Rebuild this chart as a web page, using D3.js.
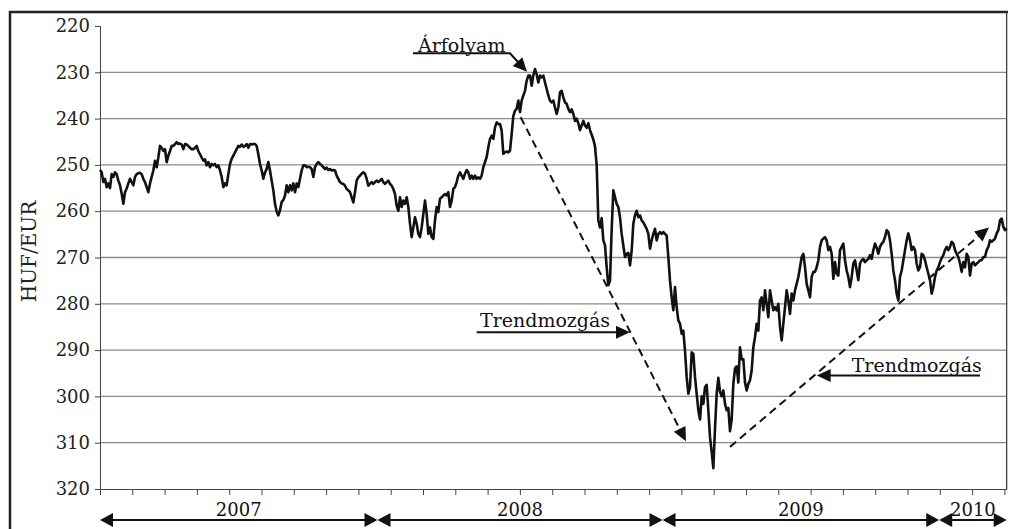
<!DOCTYPE html>
<html><head><meta charset="utf-8">
<script src="https://cdn.jsdelivr.net/npm/d3@7"></script>
<style>body{margin:0;background:#fff}svg{display:block}</style>
</head><body><svg id="c" width="1010" height="529"></svg>
<script>
// HUF/EUR exchange rate readings (roughly every 1.5 trading days), split by year
const rate2007 = [251.1,251.6,253.7,253,254.8,254,255,252,252.6,251.6,252,253.4,254.4,256.2,258.4,255.9,255.1,254,253,253.7,
254.4,252.6,252,251.8,251.7,252,253,253.7,254.8,255.9,254,252.6,251.2,249.1,250.5,248.4,245.9,246.3,247,246.6,
249.4,248,247,245.9,245.9,245.5,245.1,245.5,245.4,245.6,246.6,245.5,245.6,245.9,246.3,246.6,246.6,246.3,245.9,247,
247.7,248.4,249.1,248.8,250.1,249.4,250.5,249.8,250.1,249.8,250.5,250.1,251.2,252.6,254.8,254,254.4,252,249.8,248.7,
248,247.3,246.6,245.9,246.1,245.6,246.1,245.9,245.5,246.3,245.5,245.6,245.5,245.5,245.9,247.7,249.8,251.2,253,251.6,
250.9,249.4,251.2,253.4,255.5,258.4,260.1,260.9,259.8,258,257.6,256.6,254.4,255.9,254.4,255.5,254,255.9,254,254.8,
253,251.2,250.1,250.1,250.5,250.4,250.5,250.9,252.6,250.5,249.8,249.4,249.8,250.1,250.5,250.9,250.6,251.1,250.9,251.2,
251.1,251.2,
252.3,253,253.7,254,254.1,254.5,255.2,255.5,255.9,257,258.1,255.9,253.4,252.7,252.3,251.9,251.6,251.9,253,254.5,
254.1,253.7,254.1,253.7,253.4];
const rate2008 = [253.7,253.4,253,253.7,254.1,253.7,253.4,254.1,254.5,255.2,256.3,258.8,259.9,257,259.1,257.7,258.4,257,259.1,262.7,
265.6,263.5,261.3,262.7,264.9,265.6,263.5,260.6,257.7,260.6,264.9,263.5,265.6,266,262,259.1,260.2,257.3,257,256.6,
256.3,256.6,255.9,259.1,257.7,255.2,254.8,253.7,252.3,251.6,252.3,253,251.9,251.1,251.6,253,252.3,253,252.3,253,
252.7,253,252.3,250.5,249.4,248.3,246.2,244.4,243.7,244.4,241.9,240.8,241.2,241.2,242.6,247.6,247.3,247.1,247.3,246.9,
243.3,239.4,238.3,237.9,236.1,238.6,236.1,235,234,231.8,230.7,230.7,232.9,230.7,229.3,230.4,232.2,230.7,231.1,230.7,
232.2,233.6,235,236.1,236.5,236.1,237.6,239,237.6,234.3,234,235.4,236.5,236.8,237.9,238.6,
238,239,240.5,240,241,242.5,241.5,240.5,241.5,242,241,242.5,243.5,244.5,246,250,
262,263.5,261.5,266.3,267.4,272.1,276,275,264,255.5,257,258.4,259.1,261.3,264.9,267.4,269.9,269.2,269,271.7,
268.5,262.7,260.9,259.9,261.3,260.9,262,262.4,263.1,263.8,264.9,268.1,266.3,264.9,263.8,266.3,264.9,264.5,264.9];
const rate2009 = [264.5,264.9,265.3,269.9,275,278.6,281.4,276.4,280.7,283.6,284.3,286.5,285.8,290.1,295.8,299.4,298,290.5,290.8,
295.8,299.4,303,305,300,301.6,298,297.5,303,308.8,312,315.5,307,299.4,296,299,300,298.7,301.6,303,
302.5,307.5,305,297.3,294,293.5,297,289.4,292,292,297,298.7,297.3,296.5,294.4,289.4,287.2,284.3,285.8,279.3,
278.6,281.4,277.1,280,282.9,277.1,279.3,281.4,280.7,281.4,280,285,287.9,284.3,280.7,277.1,279.3,282.2,
277.8,279.3,277.1,275.7,274.2,272.1,269.9,269.2,272.1,275.7,277.1,278.6,274.2,273.1,273.1,272.1,270.6,267.7,266.3,265.9,
265.6,266.3,268.4,267.7,269.2,274.6,271,273.5,273.9,268.4,267.7,267,270.6,272.8,274.2,276.4,274.2,271.3,270.6,272.8,
274.9,271.3,270.6,270.3,271,270.6,270.3,269.5,270.3,268.4,267,267.9,269.2,267.7,267,266.6,265.6,264.1,264.5,266.3,
269.2,272.8,274.9,277.8,279.3,274.2,272.8,270.6,268.4,266.3,264.8,266.3,268.4,267.7,268.4,271.3,272.8,272.1,269.2,269.5,
270.6,272.1,273.5,274.9,277.8,276.4,274.2,272.8,272.1];
const rate2010 = [271,270.1,269.5,268.4,267.7,268.4,267.7,266.6,267,268.4,269.2,269.9,271.3,273.1,271,272.1,269.2,269.9,273.9,271.3,
271,271.7,271.3,271,270.6,270.6,269.9,269.9,268.4,267.7,266.3,266.6,266.3,265.9,264.8,264.1,262,261.6,263.4,264.1,263.7];

const years = ["2007", "2008", "2009", "2010"];
const yTicks = [220, 230, 240, 250, 260, 270, 280, 290, 300, 310, 320];
const gridValues = [230, 240, 250, 260, 270, 280, 290, 300, 310];
const yTitle = "HUF/EUR";
const tickEvery = 19.38; // readings between x-axis tick marks

// annotations in data coordinates [reading index, HUF/EUR]
const labelRate = {text: "Árfolyam", at: [190.8, 225.55], line: [[187.8, 225.9], [246, 225.9], [256.2, 229.9]]};
const labelTrend1 = {text: "Trendmozgás", at: [228, 285.0], line: [[226, 286.15], [318, 286.15]]};
const labelTrend2 = {text: "Trendmozgás", at: [451, 294.66], line: [[528, 295.5], [430, 295.5]]};
const trendDown = [[252.4, 239.7], [351.6, 309.7]];
const trendUp = [[378, 310.9], [533.4, 263.5]];

const series = [rate2007, rate2008, rate2009, rate2010];
const rate = series.flat();

const svg = d3.select("#c");
const FONT = "'DejaVu Serif', serif";
const P = {left: 100, top: 26, right: 1006.67, bottom: 489};

const x = d3.scaleLinear().domain([0, rate.length - 1]).range([P.left, P.right]);
const y = d3.scaleLinear().domain([220, 320]).range([P.top, P.bottom]);

// outer frame
svg.append("path").attr("d", `M10,529 V12 H1008`)
  .attr("fill", "none").attr("stroke", "#222").attr("stroke-width", 2.5);

// gridlines
svg.append("g").selectAll("line").data(gridValues).join("line")
  .attr("x1", P.left).attr("x2", P.right)
  .attr("y1", d => y(d)).attr("y2", d => y(d))
  .attr("stroke", "#8c8c8c").attr("stroke-width", 1.3);

// right border
svg.append("line").attr("x1", P.right).attr("x2", P.right).attr("y1", 12).attr("y2", P.bottom)
  .attr("stroke", "#333").attr("stroke-width", 1.2);

// y axis
const yAxis = svg.append("g").attr("transform", `translate(${P.left},0)`)
  .call(d3.axisLeft(y).tickValues(yTicks).tickSize(5).tickPadding(5));
yAxis.selectAll("text").attr("font-family", FONT).attr("font-size", 18).attr("fill", "#222");
yAxis.selectAll("line,path").attr("stroke", "#444");

// x axis (ticks only)
const xAxis = svg.append("g").attr("transform", `translate(0,${P.bottom})`)
  .call(d3.axisBottom(x).tickValues(d3.range(0, rate.length - 1, tickEvery)).tickSize(6).tickSizeOuter(0).tickFormat(""));
xAxis.selectAll("line,path").attr("stroke", "#444");

// y title
svg.append("text").attr("transform", `translate(36,${(P.top + P.bottom) / 2 - 6}) rotate(-90)`)
  .attr("text-anchor", "middle").attr("font-family", FONT).attr("font-size", 20).attr("fill", "#222")
  .text(yTitle);

// data line
svg.append("path").datum(rate)
  .attr("d", d3.line().x((d, i) => x(i)).y(d => y(d)).curve(d3.curveLinear))
  .attr("fill", "none").attr("stroke", "#111").attr("stroke-width", 2.6).attr("stroke-linejoin", "round");

// arrowhead helper
function arrowHead(tip, from, len, half) {
  const dx = tip[0] - from[0], dy = tip[1] - from[1];
  const L = Math.hypot(dx, dy), ux = dx / L, uy = dy / L;
  const bx = tip[0] - ux * len, by = tip[1] - uy * len;
  return `M${tip[0]},${tip[1]} L${bx - uy * half},${by + ux * half} L${bx + uy * half},${by - ux * half} Z`;
}
const px = p => [x(p[0]), y(p[1])];

// dashed trend lines
[trendDown, trendUp].forEach(t => {
  const a = px(t[0]), b = px(t[1]);
  const L = Math.hypot(b[0] - a[0], b[1] - a[1]);
  const e = [b[0] - (b[0] - a[0]) / L * 10, b[1] - (b[1] - a[1]) / L * 10];
  svg.append("line").attr("x1", a[0]).attr("y1", a[1]).attr("x2", e[0]).attr("y2", e[1])
    .attr("stroke", "#111").attr("stroke-width", 2).attr("stroke-dasharray", "8,5");
  svg.append("path").attr("d", arrowHead(b, a, 14, 6.5)).attr("fill", "#111");
});

// annotation labels with underline arrows
[labelRate, labelTrend1, labelTrend2].forEach(l => {
  const at = px(l.at);
  svg.append("text").attr("x", at[0]).attr("y", at[1]).attr("font-family", FONT)
    .attr("font-size", 19).attr("fill", "#111").text(l.text);
  const pts = l.line.map(px);
  const n = pts.length, tip = pts[n - 1], prev = pts[n - 2];
  const L = Math.hypot(tip[0] - prev[0], tip[1] - prev[1]);
  const end = [tip[0] - (tip[0] - prev[0]) / L * 10, tip[1] - (tip[1] - prev[1]) / L * 10];
  svg.append("path").attr("d", d3.line()([...pts.slice(0, n - 1), end]))
    .attr("fill", "none").attr("stroke", "#111").attr("stroke-width", 2);
  svg.append("path").attr("d", arrowHead(tip, prev, 14, 6.5)).attr("fill", "#111");
});

// year bands with double arrows
let start = 0;
const bounds = [0];
series.forEach((s, i) => { start += s.length; bounds.push(i === series.length - 1 ? rate.length - 1 : start - 0.5); });
const yearY = P.bottom + 31;
years.forEach((yr, i) => {
  const x0 = x(bounds[i]), x1 = x(bounds[i + 1]);
  svg.append("line").attr("x1", x0 + 10).attr("x2", x1 - 10).attr("y1", yearY).attr("y2", yearY)
    .attr("stroke", "#111").attr("stroke-width", 2);
  svg.append("path").attr("d", arrowHead([x0, yearY], [x1, yearY], 13, 7)).attr("fill", "#111");
  svg.append("path").attr("d", arrowHead([x1, yearY], [x0, yearY], 13, 7)).attr("fill", "#111");
  svg.append("text").attr("x", (x0 + x1) / 2).attr("y", yearY - 4).attr("text-anchor", "middle")
    .attr("font-family", FONT).attr("font-size", 18).attr("fill", "#111").text(yr);
});
</script></body></html>
